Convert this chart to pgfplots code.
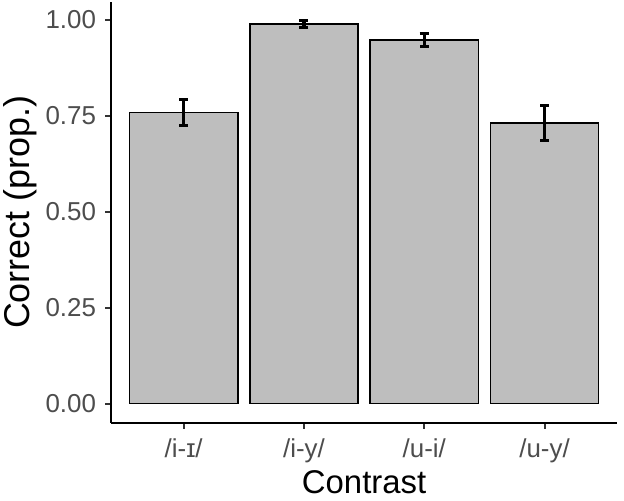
\documentclass[border=0pt]{standalone}
\usepackage{fontspec}
\setmainfont{Liberation Sans}
\usepackage{pgfplots}
\pgfplotsset{compat=1.18}
\definecolor{barfill}{HTML}{BEBEBE}
\definecolor{ticktext}{HTML}{4D4D4D}
\definecolor{tickcol}{HTML}{333333}
\begin{document}
\begin{tikzpicture}
\useasboundingbox[fill=white] (-111.5bp,-78.3bp) rectangle (512.5bp,422.7bp);
\begin{axis}[
  at={(0,0)}, anchor=south west,
  scale only axis,
  width=505.2bp, height=420.7bp,
  xmin=0.4, xmax=4.6, ymin=-0.0499, ymax=1.047,
  enlargelimits=false,
  axis x line=bottom, axis y line=left,
  axis line style={-, line width=2bp, black},
  xtick={1,2,3,4},
  xticklabels={/i-ɪ/,/i-y/,/u-i/,/u-y/},
  ytick={0,0.25,0.5,0.75,1},
  yticklabel style={/pgf/number format/fixed,/pgf/number format/precision=2,/pgf/number format/fixed zerofill, xshift=-6bp},
  xticklabel style={yshift=-7bp},
  /pgf/number format/assume math mode=true,
  tick align=outside,
  major tick length=6bp,
  tick style={line width=2bp, tickcol},
  ticklabel style={font=\fontsize{26}{28}\selectfont, text=ticktext},
  xlabel={Contrast},
  ylabel={Correct (prop.)},
  xlabel style={font=\fontsize{33}{36}\selectfont, at={(axis description cs:0.5,-0.1425)}, anchor=center, inner sep=1bp},
  ylabel style={font=\fontsize{36}{40}\selectfont, at={(axis description cs:-0.180,0.5)}, anchor=center},
  clip=false,
]
\addplot[ybar, bar width=0.9, fill=barfill, draw=black, line width=1.5bp,
  error bars/.cd, y dir=both, y explicit,
  error bar style={line width=3.2bp, black},
  error mark options={rotate=90, line width=3.2bp, black, mark size=4.5bp}]
  coordinates {
    (1,0.759) +- (0,0.033)
    (2,0.989) +- (0,0.009)
    (3,0.948) +- (0,0.017)
    (4,0.731) +- (0,0.046)
  };
\end{axis}
\end{tikzpicture}
\end{document}
